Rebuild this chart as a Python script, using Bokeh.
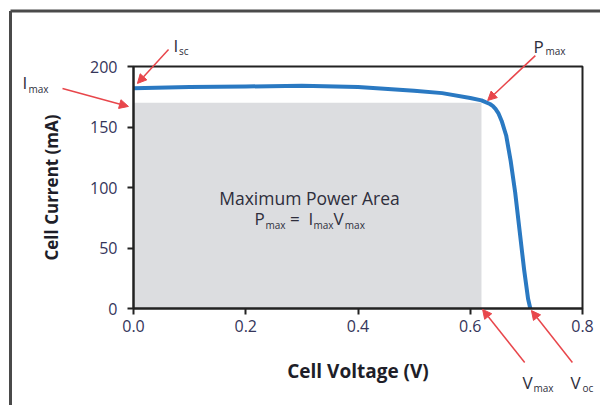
from bokeh.plotting import figure
from bokeh.models import (Arrow, NormalHead, Label, FixedTicker, NumeralTickFormatter, Range1d)
from bokeh.embed import file_html
from bokeh.resources import INLINE

# ---- data ----
voltage = [0.0, 0.1, 0.2, 0.3, 0.4, 0.5, 0.55, 0.6, 0.62, 0.635, 0.64, 0.645, 0.65, 0.656, 0.664,
           0.672, 0.68, 0.688, 0.696, 0.703, 0.707]
current = [182, 183, 183.5, 184, 183, 180, 178, 174, 172, 169, 167.5, 165, 161.5, 155, 143,
           122, 96, 64, 32, 8, 0]
v_max = 0.62
i_max = 170
x_ticks = [0.0, 0.2, 0.4, 0.6, 0.8]
y_ticks = [0, 50, 100, 150, 200]
x_lim = (0.0, 0.8)
y_lim = (0, 200)

FONT = "Open Sans"
TXT = "#2e2e3c"
RED = "#e8464b"
BLUE = "#2a79c2"

# frame spans the whole canvas; axes are pinned at data 0 with fixed_location
W, H = 600, 405
SX, SY = 561.25, 1.21          # px per volt, px per mA
OX, OY = 133, 308               # pixel position of the data origin
X0, X1 = -OX / SX, (W - OX) / SX
Y0, Y1 = (OY - H) / SY, OY / SY

p = figure(output_backend="svg", toolbar_location=None, width=W, height=H,
           x_range=Range1d(X0, X1), y_range=Range1d(Y0, Y1), min_border=0)
p.xgrid.visible = False
p.ygrid.visible = False
p.outline_line_color = None
p.background_fill_color = "white"
p.border_fill_color = "white"

# outer page border (left and top; the rest is cut off in the original)
bx = X0 + 10 / SX
by = Y1 - 10.5 / SY
p.line([bx, bx], [Y0 - 10, by], line_color="#4a4a4a", line_width=3)
p.line([bx, X1 + 0.1], [by, by], line_color="#4a4a4a", line_width=3)

# gray area
p.quad(left=[0], right=[v_max], bottom=[0], top=[i_max], fill_color="#dcdde0", line_color=None)
# IV curve
p.line(voltage, current, line_color=BLUE, line_width=4, line_join="round")
# plot box
p.quad(left=[x_lim[0]], right=[x_lim[1]], bottom=[y_lim[0]], top=[y_lim[1]],
       fill_color=None, line_color="#222222", line_width=2)

for ax in (p.xaxis[0], p.yaxis[0]):
    ax.fixed_location = 0
    ax.axis_line_color = "#222222"
    ax.axis_line_width = 2
    ax.major_tick_line_color = "#222222"
    ax.major_tick_line_width = 2
    ax.major_tick_out = 6
    ax.major_tick_in = 0
    ax.minor_tick_line_color = None
    ax.major_label_text_font = FONT
    ax.major_label_text_font_size = "16px"
    ax.major_label_text_color = "#35355a"
    ax.axis_label_text_font = FONT
    ax.axis_label_text_font_style = "bold"
    ax.axis_label_text_color = "#1e1e28"

p.xaxis[0].axis_label_text_font_size = "19px"
p.yaxis[0].axis_label_text_font_size = "17px"
p.xaxis[0].bounds = x_lim
p.yaxis[0].bounds = y_lim
p.xaxis[0].ticker = FixedTicker(ticks=x_ticks)
p.xaxis[0].formatter = NumeralTickFormatter(format="0.0")
p.yaxis[0].ticker = FixedTicker(ticks=y_ticks)
p.xaxis[0].major_label_standoff = 5
p.yaxis[0].major_label_standoff = 10
p.xaxis[0].axis_label = "Cell Voltage (V)"
p.yaxis[0].axis_label = "Cell Current (mA)"
p.xaxis[0].axis_label_standoff = 23
p.yaxis[0].axis_label_standoff = 24

def lab(x, y, text, size, align="left"):
    p.add_layout(Label(x=x, y=y, text=text, text_font=FONT, text_font_size=size,
                       text_color=TXT, text_align=align, text_baseline="alphabetic"))

# center text
lab(0.3136, 91.7, "Maximum Power Area", "17.5px", "center")
lab(0.2156, 74.1, "P", "17px")
lab(0.2352, 69.4, "max", "10px")
lab(0.2790, 74.1, "=", "17px")
lab(0.3117, 74.1, "I", "17px")
lab(0.3207, 69.4, "max", "10px")
lab(0.3563, 74.1, "V", "17px")
lab(0.3765, 69.4, "max", "10px")

# annotation labels
lab(0.0713, 217.4, "I", "17px"); lab(0.0810, 213.2, "sc", "10px")
lab(-0.1978, 186.8, "I", "17px"); lab(-0.187, 181.8, "max", "10px")
lab(0.7127, 216.5, "P", "17px"); lab(0.734, 212.4, "max", "10px")
lab(0.693, -61.2, "V", "17px"); lab(0.7127, -66.1, "max", "10px")
lab(0.7786, -61.2, "V", "17px"); lab(0.800, -66.1, "oc", "10px")

# arrows
arrows = [
    ((0.0624, 214.0), (0.007, 186.0)),
    ((-0.1265, 181.8), (-0.009, 167.0)),
    ((0.716, 209.0), (0.631, 171.9)),
    ((0.697, -44.6), (0.622, -0.8)),
    ((0.782, -44.6), (0.709, -1.7)),
]
for (x0, y0), (x1, y1) in arrows:
    p.add_layout(Arrow(x_start=x0, y_start=y0, x_end=x1, y_end=y1,
                       line_color=RED, line_width=1.5,
                       end=NormalHead(size=9, fill_color=RED, line_color=RED)))

open("out.html", "w").write(file_html(p, INLINE))
